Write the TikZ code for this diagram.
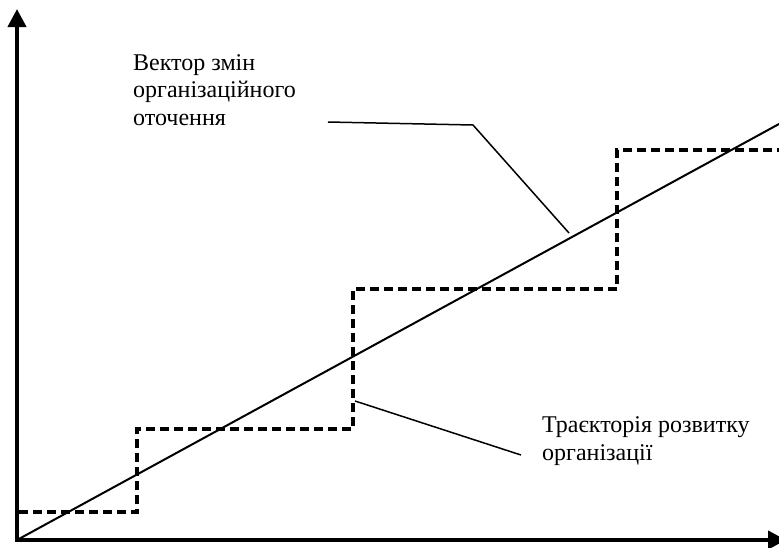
\documentclass[tikz,border=0pt]{standalone}
\usepackage{fontspec}
\setmainfont{Liberation Serif}
\usetikzlibrary{arrows.meta}
\begin{document}
\begin{tikzpicture}[x=1pt,y=-1pt,
  axis/.style={line width=4pt,-{Triangle[width=18pt,length=18pt]}},
  trend/.style={line width=2pt},
  stairs/.style={line width=3.2pt,dash pattern=on 9pt off 5pt},
  leader/.style={line width=1.5pt},
  lbl/.style={anchor=base west,align=left,inner sep=0pt,
    font=\fontsize{24pt}{27.4pt}\selectfont}]
\useasboundingbox (0,0) rectangle (779,547);
\clip (0,0) rectangle (779,547);

% axes
\coordinate (O) at (17,540);
\coordinate (ytop) at (17,9);
\coordinate (xend) at (786,540);
\draw[axis] (17,542) -- (ytop);
\draw[axis] (15,540) -- (xend);

% vector of environmental change
\coordinate (vend) at (790,118);
\draw[trend] (O) -- (vend);

% stepwise development trajectory
\coordinate (s0) at (19,512);
\coordinate (s1) at (137,512);
\coordinate (s2) at (137,429);
\coordinate (s3) at (353,429);
\coordinate (s4) at (353,289);
\coordinate (s5) at (617,289);
\coordinate (s6) at (617,150);
\coordinate (s7) at (785,150);
\draw[stairs] (s0) -- (s1) -- (s2) -- (s3) -- (s4) -- (s5) -- (s6) -- (s7);

% labels (base anchor sits on the last line)
\node[lbl] (vlabel) at (133,125) {Вектор змін\\організаційного\\оточення};
\node[lbl] (tlabel) at (542,460) {Траєкторія розвитку\\організації};

% leader lines
\coordinate (va) at (328,122);
\coordinate (vb) at (473,125);
\coordinate (vc) at (569,233);
\draw[leader] (va) -- (vb) -- (vc);
\coordinate (ta) at (355,401);
\coordinate (tb) at (521,455);
\draw[leader] (ta) -- (tb);
\end{tikzpicture}
\end{document}
